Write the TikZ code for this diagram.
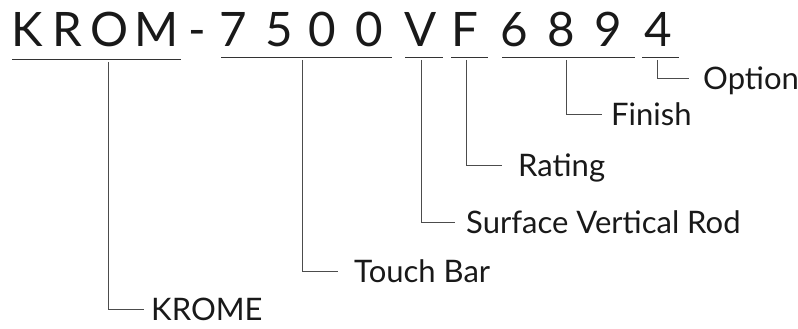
\documentclass[tikz,border=0pt]{standalone}
\usepackage{fontspec}
\setmainfont{Lato}
\begin{document}
\begin{tikzpicture}[x=1pt,y=-1pt,
  code/.style={anchor=base,inner sep=0pt,font=\fontsize{47.5}{50}\selectfont,text=black!90},
  lab/.style={anchor=west,inner ysep=0pt,text height=22pt,text depth=0pt,font=\fontsize{31}{33}\selectfont,text=black!90},
  uline/.style={draw=black!80,line width=0.9pt},
  conn/.style={draw=black!70,line width=0.9pt}]
\useasboundingbox (0,0) rectangle (798,329);
% code characters
\node[code] (k1) at (27.5,47) {K};
\node[code] (k2) at (67.5,47) {R};
\node[code] (k3) at (110,47) {O};
\node[code] (k4) at (156.5,47) {M};
\node[code] (dash) at (197.5,47) {-};
\node[code] (n1) at (233,47) {7};
\node[code] (n2) at (279,47) {5};
\node[code] (n3) at (322.5,47) {0};
\node[code] (n4) at (369,47) {0};
\node[code] (v) at (421,47) {V};
\node[code] (f) at (465,47) {F};
\node[code] (d1) at (514,47) {6};
\node[code] (d2) at (561,47) {8};
\node[code] (d3) at (608,47) {9};
\node[code] (d4) at (658,47) {4};
% underlines
\draw[uline] (12,59.3) -- (181,59.3);
\draw[uline] (221,57) -- (392,57);
\draw[uline] (405,57) -- (443,57);
\draw[uline] (451,57) -- (488,57);
\draw[uline] (502,57) -- (635,57);
\draw[uline] (642,57) -- (679,57);
% connector tops
\coordinate (t1) at (108,62);
\coordinate (t2) at (302,60);
\coordinate (t3) at (421,60);
\coordinate (t4) at (466,60);
\coordinate (t5) at (566,60);
\coordinate (t6) at (657,60);
% labels
\node[lab,inner xsep=7pt] (l1) at (144,309) {KROME};
\node[lab,inner xsep=16pt] (l2) at (338,271) {Touch Bar};
\node[lab,inner xsep=11pt] (l3) at (455,222) {Surface Vertical Rod};
\node[lab,inner xsep=16pt] (l4) at (502,165) {Rating};
\node[lab,inner xsep=9pt] (l5) at (602,114) {Finish};
\node[lab,inner xsep=14pt] (l6) at (689,78) {Option};
% connectors
\draw[conn] (t1) |- (l1.west);
\draw[conn] (t2) |- (l2.west);
\draw[conn] (t3) |- (l3.west);
\draw[conn] (t4) |- (l4.west);
\draw[conn] (t5) |- (l5.west);
\draw[conn] (t6) |- (l6.west);
\end{tikzpicture}
\end{document}
